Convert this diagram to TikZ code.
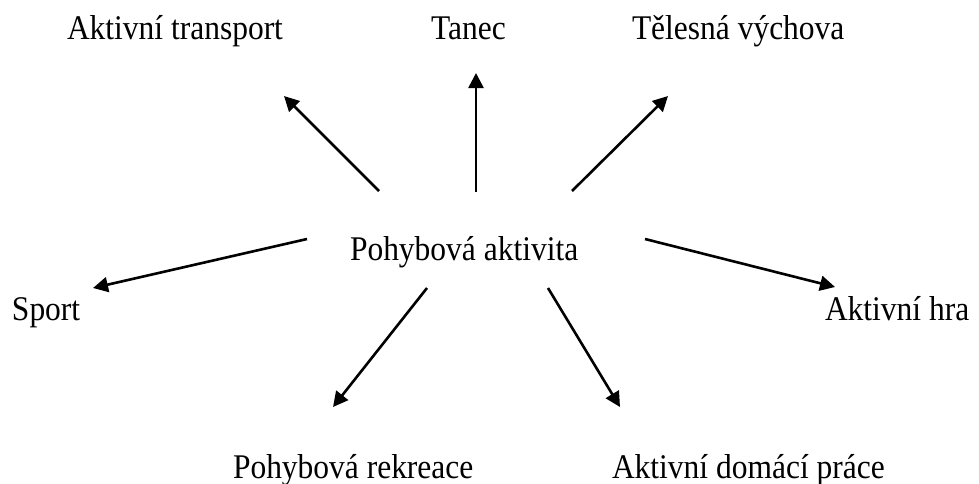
\documentclass[tikz,border=0pt]{standalone}
\usepackage{fontspec}
\setmainfont{Liberation Serif}[FakeStretch=0.91]
\usetikzlibrary{arrows.meta}
\begin{document}
\begin{tikzpicture}[x=1pt,y=-1pt,
  label/.style={anchor=base west,inner sep=0pt,outer sep=0pt,
    font=\fontsize{34.6}{40}\selectfont},
  arr/.style={line width=2.6pt,-{Triangle[length=15pt,width=15pt]}}]
  \path[use as bounding box,fill=white] (0,0) rectangle (979,483);

  % labels
  \node[label] (pa)  at (350,260) {Pohybová aktivita};
  \node[label] (at)  at (67,39)   {Aktivní transport};
  \node[label] (ta)  at (431,39)  {Tanec};
  \node[label] (tv)  at (632,39)  {Tělesná výchova};
  \node[label] (sp)  at (12,320)  {Sport};
  \node[label] (ah)  at (825,320) {Aktivní hra};
  \node[label] (pr)  at (233,478) {Pohybová rekreace};
  \node[label] (adp) at (612,478) {Aktivní domácí práce};

  % arrow ends
  \coordinate (s1) at (379,191); \coordinate (e1) at (284,96);
  \coordinate (s2) at (476,192); \coordinate (e2) at (476,73);
  \coordinate (s3) at (572,191); \coordinate (e3) at (668,96);
  \coordinate (s4) at (307,239); \coordinate (e4) at (93,288);
  \coordinate (s5) at (645,239); \coordinate (e5) at (835,287);
  \coordinate (s6) at (427,288); \coordinate (e6) at (333,407);
  \coordinate (s7) at (548,288); \coordinate (e7) at (620,407);

  \foreach \i in {1,...,7} \draw[arr] (s\i) -- (e\i);
\end{tikzpicture}
\end{document}
